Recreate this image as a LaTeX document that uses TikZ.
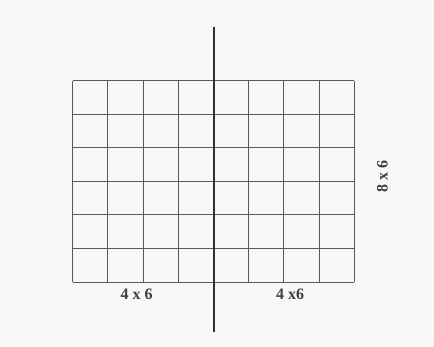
\documentclass[tikz,border=0pt]{standalone}
\usepackage{fontspec}
\setmainfont{Liberation Serif}
\usetikzlibrary{positioning}
\definecolor{paper}{HTML}{F8F8F8}
\definecolor{gridgray}{HTML}{5A5A5A}
\definecolor{splitline}{HTML}{2E2E34}
\tikzset{
  cellline/.style={draw=gridgray, line width=0.9pt},
  cutline/.style={draw=splitline, line width=2.2pt},
  dimlbl/.style={font=\bfseries\fontsize{16}{18}\selectfont, text=black!75},
}

\begin{document}
\begin{tikzpicture}[x=1pt, y=-1pt]
  % --- page ---
  \fill[paper] (0,0) rectangle (434,347);
  \useasboundingbox (0,0) rectangle (434,347);

  % --- 8 x 6 grid ---
  \foreach \i in {0,...,8}
    \draw[cellline] ({72.7+35.2*\i},80.7) -- ({72.7+35.2*\i},282);
  \foreach \j in {0,...,6}
    \draw[cellline] (72.7,{80.7+33.55*\j}) -- (354.3,{80.7+33.55*\j});

  % --- dividing line ---
  \coordinate (cuttop) at (213.7,26.7);
  \coordinate (cutbot) at (213.7,331.7);
  \draw[cutline] (cuttop) -- (cutbot);

  % --- labels ---
  \node[dimlbl] (lefthalf) at (136.7,294) {4 x 6};
  \node[dimlbl] (righthalf) at (290,294) {4 x6};
  \node[dimlbl, rotate=90] (whole) at (382.5,177) {8 x 6};
\end{tikzpicture}
\end{document}
